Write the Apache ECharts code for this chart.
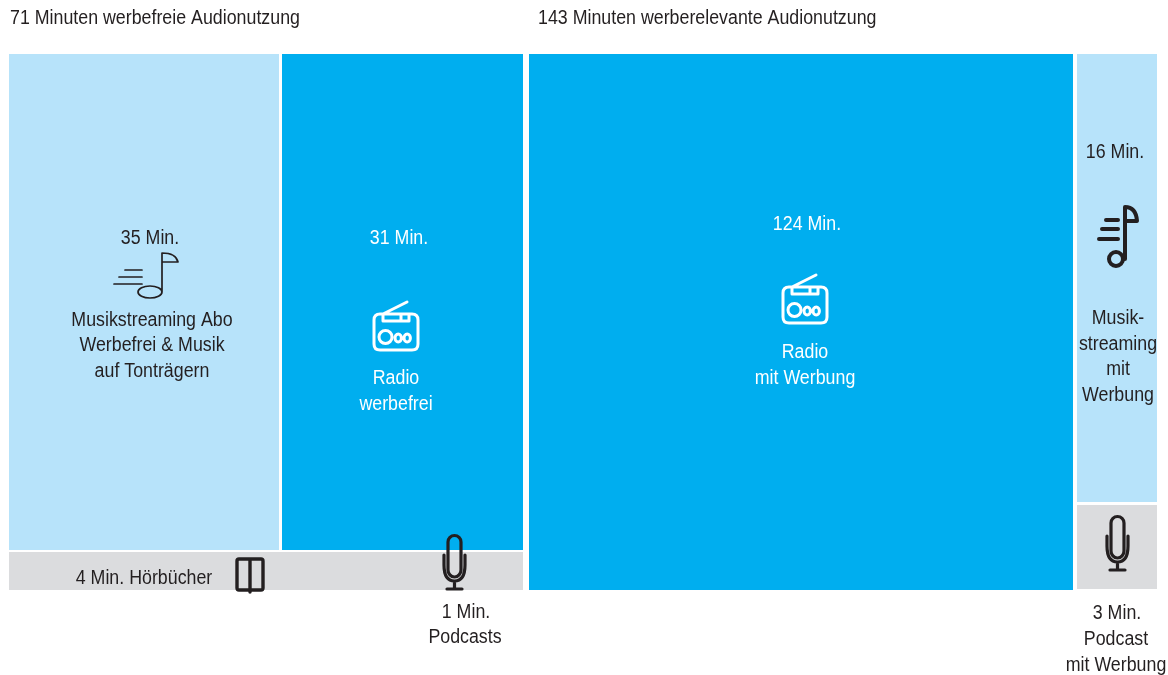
<!DOCTYPE html>
<html>
<head>
<meta charset="utf-8">
<style>
  html, body { margin: 0; padding: 0; background: #fff; }
  #chart { width: 1168px; height: 675px; }
</style>
<script src="https://cdn.jsdelivr.net/npm/echarts@6/dist/echarts.min.js"></script>
</head>
<body>
<div id="chart"></div>
<script>
// minutes per category
const titles = ['71 Minuten werbefreie Audionutzung', '143 Minuten werberelevante Audionutzung'];
const musikAbo = 35;
const radioFrei = 31;
const hoerbuecher = 4;
const podcasts = 1;
const radioWerbung = 124;
const musikWerbung = 16;
const podcastWerbung = 3;

const DARK = '#231f20';
const LIGHT = '#b7e3fa';
const BLUE = '#00aeef';
const GREY = '#dbdcde';
const FONT = '20px "Liberation Sans", sans-serif';
const NARROW = 0.89; // no condensed font installed, squeeze the text

// icons, drawn around (0,0)
const radioIcon = [
  'M-22 -12 Q-22 -18 -16 -18 L16 -18 Q22 -18 22 -12 L22 12 Q22 18 16 18 L-16 18 Q-22 18 -22 12 Z',
  'M-13 -18 L11 -30 M-13 -18 L-13 -11 L13 -11 L13 -18 M5 -18 L5 -11',
  'M-17 5 A6.5 6.5 0 1 0 -4 5 A6.5 6.5 0 1 0 -17 5 Z',
  'M-1 6 A3.2 4 0 1 0 5.4 6 A3.2 4 0 1 0 -1 6 Z',
  'M8 6 A3.2 4 0 1 0 14.4 6 A3.2 4 0 1 0 8 6 Z'
].join(' ');
const micIcon = [
  'M-6.5 -21 A6.5 6.5 0 0 1 6.5 -21 L6.5 7 A6.5 7 0 0 1 -6.5 7 Z',
  'M-10.5 -8 L-10.5 2 Q-10.5 18 0 18 Q10.5 18 10.5 2 L10.5 -8',
  'M0 18 L0 26 M-7.5 26 L7.5 26'
].join(' ');
const bookIcon = 'M-11 -16 L11 -16 Q13 -16 13 -14 L13 13 Q13 15 11 15 L-11 15 Q-13 15 -13 13 L-13 -14 Q-13 -16 -11 -16 Z M0 -16 L0 17';
const noteThin = [
  'M12 18 L12 -21 Q26 -21 28 -12 L12 -12',
  'M12 18 a12 6 0 1 0 -24 0 a12 6 0 1 0 24 0 Z',
  'M-8 -4 L-25 -4 M-8 3 L-31 3 M-8 10 L-36 10'
].join(' ');
const noteBold = [
  'M9 26 L9 -26 Q20 -26 21 -12 L9 -12',
  'M7 26 a7 7 0 1 0 -14 0 a7 7 0 1 0 14 0 Z',
  'M2 -13 L-10 -13 M2 -4 L-14 -4 M2 6 L-17 6'
].join(' ');

// look and labels for every block. inset = px cut from right / bottom / left edge
const blockStyles = {
  musikAbo: {
    color: LIGHT, textColor: DARK, inset: [2.6, 2.3, 0],
    texts: [[150, 238, musikAbo + ' Min.'], [152, 320, 'Musikstreaming Abo'], [152, 345, 'Werbefrei & Musik'], [152, 371, 'auf Tonträgern']],
    icon: {d: noteThin, x: 150, y: 274, width: 1.7}
  },
  radioFrei: {
    color: BLUE, textColor: '#fff', inset: [0, 2.3, 0.4],
    texts: [[399, 238, radioFrei + ' Min.'], [396, 378, 'Radio'], [396, 404, 'werbefrei']],
    icon: {d: radioIcon, x: 396, y: 332, width: 3}
  },
  hoerbuecher: {
    color: GREY, textColor: DARK, inset: [0, 0, 0],
    texts: [[144, 578, hoerbuecher + ' Min. Hörbücher']],
    icon: {d: bookIcon, x: 250, y: 575, width: 3.4}
  },
  podcasts: {
    color: GREY, textColor: DARK, inset: [0, 0, 0],
    texts: [[466, 612, podcasts + ' Min.'], [465, 637, 'Podcasts']],
    icon: {d: micIcon, x: 454.5, y: 563, width: 3.2}
  },
  radioWerbung: {
    color: BLUE, textColor: '#fff', inset: [0.6, 0, 0],
    texts: [[807, 224, radioWerbung + ' Min.'], [805, 352, 'Radio'], [805, 378, 'mit Werbung']],
    icon: {d: radioIcon, x: 805, y: 305, width: 3}
  },
  musikWerbung: {
    color: LIGHT, textColor: DARK, inset: [0, 3.4, 3.4],
    texts: [[1115, 152, musikWerbung + ' Min.'], [1118, 318, 'Musik-'], [1118, 344, 'streaming'], [1118, 369, 'mit'], [1118, 395, 'Werbung']],
    icon: {d: noteBold, x: 1116, y: 233, width: 4}
  },
  podcastWerbung: {
    color: GREY, textColor: DARK, inset: [0, 0.6, 3.4],
    texts: [[1117, 613, podcastWerbung + ' Min.'], [1116, 639, 'Podcast'], [1116, 665, 'mit Werbung']],
    icon: {d: micIcon, x: 1117.5, y: 544, width: 3.2}
  }
};

// left part: two columns on top of one row. right part: big column + split column
const leftTop = musikAbo + radioFrei;
const leftBottom = hoerbuecher + podcasts;
const leftShare = leftBottom / (leftTop + leftBottom);
const rightCol = musikWerbung + podcastWerbung;
const rightShare = podcastWerbung / rightCol;

// [x0, x1, y0, y1], x in minutes, y as share of the height
const leftBlocks = [
  {name: 'musikAbo', value: [0, musikAbo, leftShare, 1]},
  {name: 'radioFrei', value: [musikAbo, leftTop, leftShare, 1]},
  {name: 'hoerbuecher', value: [0, leftTop * hoerbuecher / leftBottom, 0, leftShare]},
  {name: 'podcasts', value: [leftTop * hoerbuecher / leftBottom, leftTop, 0, leftShare]}
];
const rightBlocks = [
  {name: 'radioWerbung', value: [0, radioWerbung, 0, 1]},
  {name: 'musikWerbung', value: [radioWerbung, radioWerbung + rightCol, rightShare, 1]},
  {name: 'podcastWerbung', value: [radioWerbung, radioWerbung + rightCol, 0, rightShare]}
];

function renderBlock(blocks) {
  return function (params, api) {
    const style = blockStyles[blocks[params.dataIndex].name];
    const p0 = api.coord([api.value(0), api.value(3)]);
    const p1 = api.coord([api.value(1), api.value(2)]);
    const left = Math.round(p0[0] + style.inset[2]);
    const right = Math.round(p1[0] - style.inset[0]);
    const top = Math.round(p0[1]);
    const bottom = Math.round(p1[1] - style.inset[1]);
    return {
      type: 'rect',
      shape: {x: left, y: top, width: right - left, height: bottom - top},
      style: {fill: style.color}
    };
  };
}

// labels and icons go in a later series so they sit over every block
function renderLabel(blocks) {
  return function (params) {
    const style = blockStyles[blocks[params.dataIndex].name];
    const children = style.texts.map(t => ({
      type: 'text',
      x: t[0],
      y: t[1],
      scaleX: NARROW,
      style: {text: t[2], fill: style.textColor, font: FONT, align: 'center', verticalAlign: 'middle'}
    }));
    children.push({
      type: 'path',
      x: style.icon.x,
      y: style.icon.y,
      shape: {pathData: style.icon.d},
      style: {
        fill: null, stroke: style.textColor, lineWidth: style.icon.width,
        lineCap: 'round', lineJoin: 'round'
      }
    });
    return {type: 'group', children: children};
  };
}

const chart = echarts.init(document.getElementById('chart'), null, {renderer: 'canvas'});
chart.setOption({
  animation: false,
  backgroundColor: '#fff',
  graphic: [
    {type: 'text', x: 10, y: 18, scaleX: NARROW, style: {text: titles[0], fill: DARK, font: FONT, verticalAlign: 'middle'}},
    {type: 'text', x: 538, y: 18, scaleX: NARROW, style: {text: titles[1], fill: DARK, font: FONT, verticalAlign: 'middle'}}
  ],
  grid: [
    {left: 9, top: 54, width: 514, height: 536},
    {left: 529, top: 54, width: 628, height: 536}
  ],
  xAxis: [
    {type: 'value', gridIndex: 0, min: 0, max: leftTop, show: false},
    {type: 'value', gridIndex: 1, min: 0, max: radioWerbung + rightCol, show: false}
  ],
  yAxis: [
    {type: 'value', gridIndex: 0, min: 0, max: 1, show: false},
    {type: 'value', gridIndex: 1, min: 0, max: 1, show: false}
  ],
  series: [
    {type: 'custom', xAxisIndex: 0, yAxisIndex: 0, renderItem: renderBlock(leftBlocks), data: leftBlocks, clip: false, silent: true},
    {type: 'custom', xAxisIndex: 1, yAxisIndex: 1, renderItem: renderBlock(rightBlocks), data: rightBlocks, clip: false, silent: true},
    {type: 'custom', xAxisIndex: 0, yAxisIndex: 0, renderItem: renderLabel(leftBlocks), data: leftBlocks, clip: false, silent: true, z: 5},
    {type: 'custom', xAxisIndex: 1, yAxisIndex: 1, renderItem: renderLabel(rightBlocks), data: rightBlocks, clip: false, silent: true, z: 5}
  ]
});
</script>
</body>
</html>
